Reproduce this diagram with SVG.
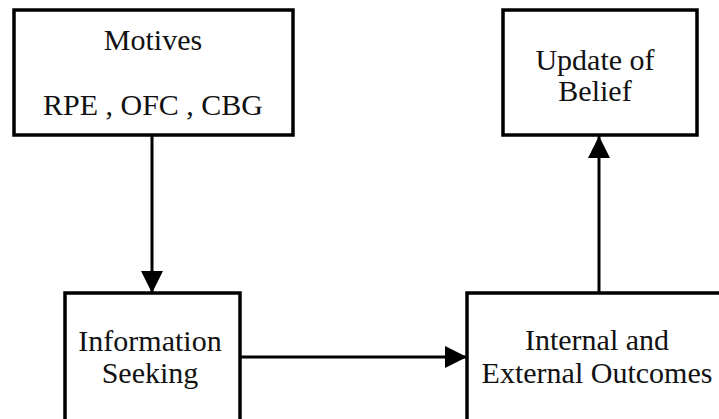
<svg xmlns="http://www.w3.org/2000/svg" width="719" height="419" viewBox="0 0 719 419">
<style>
.box{fill:#fff;stroke:#000;stroke-width:3.5}
.t{font-family:'Liberation Serif','DejaVu Serif',serif;font-size:30px;fill:#111;text-anchor:middle}
.c{stroke:#000;stroke-width:3;fill:none}
</style>
<defs>
<marker id="ah" markerWidth="22" markerHeight="22" viewBox="0 0 22 22" refX="22" refY="11" orient="auto" markerUnits="userSpaceOnUse">
<path d="M0,0 L22,11 L0,22 Z" fill="#000"/>
</marker>
</defs>
<rect width="719" height="419" fill="#fff"/>
<g id="connectors">
<line class="c" x1="152" y1="135" x2="152" y2="293" marker-end="url(#ah)"/>
<line class="c" x1="240" y1="357" x2="467" y2="357" marker-end="url(#ah)"/>
<line class="c" x1="599" y1="293" x2="599" y2="136" marker-end="url(#ah)"/>
</g>
<g id="motives">
<rect class="box" x="14" y="10" width="279" height="125"/>
<text class="t" x="153" y="50">Motives</text>
<text class="t" x="153" y="115">RPE , OFC , CBG</text>
</g>
<g id="update">
<rect class="box" x="503" y="10" width="194" height="125"/>
<text class="t" x="595" y="70">Update of</text>
<text class="t" x="595" y="101">Belief</text>
</g>
<g id="info">
<rect class="box" x="65" y="293" width="175" height="140"/>
<text class="t" x="150" y="351">Information</text>
<text class="t" x="150" y="383">Seeking</text>
</g>
<g id="outcomes">
<rect class="box" x="467" y="293" width="270" height="140"/>
<text class="t" x="597" y="350">Internal and</text>
<text class="t" x="597" y="383">External Outcomes</text>
</g>
</svg>
